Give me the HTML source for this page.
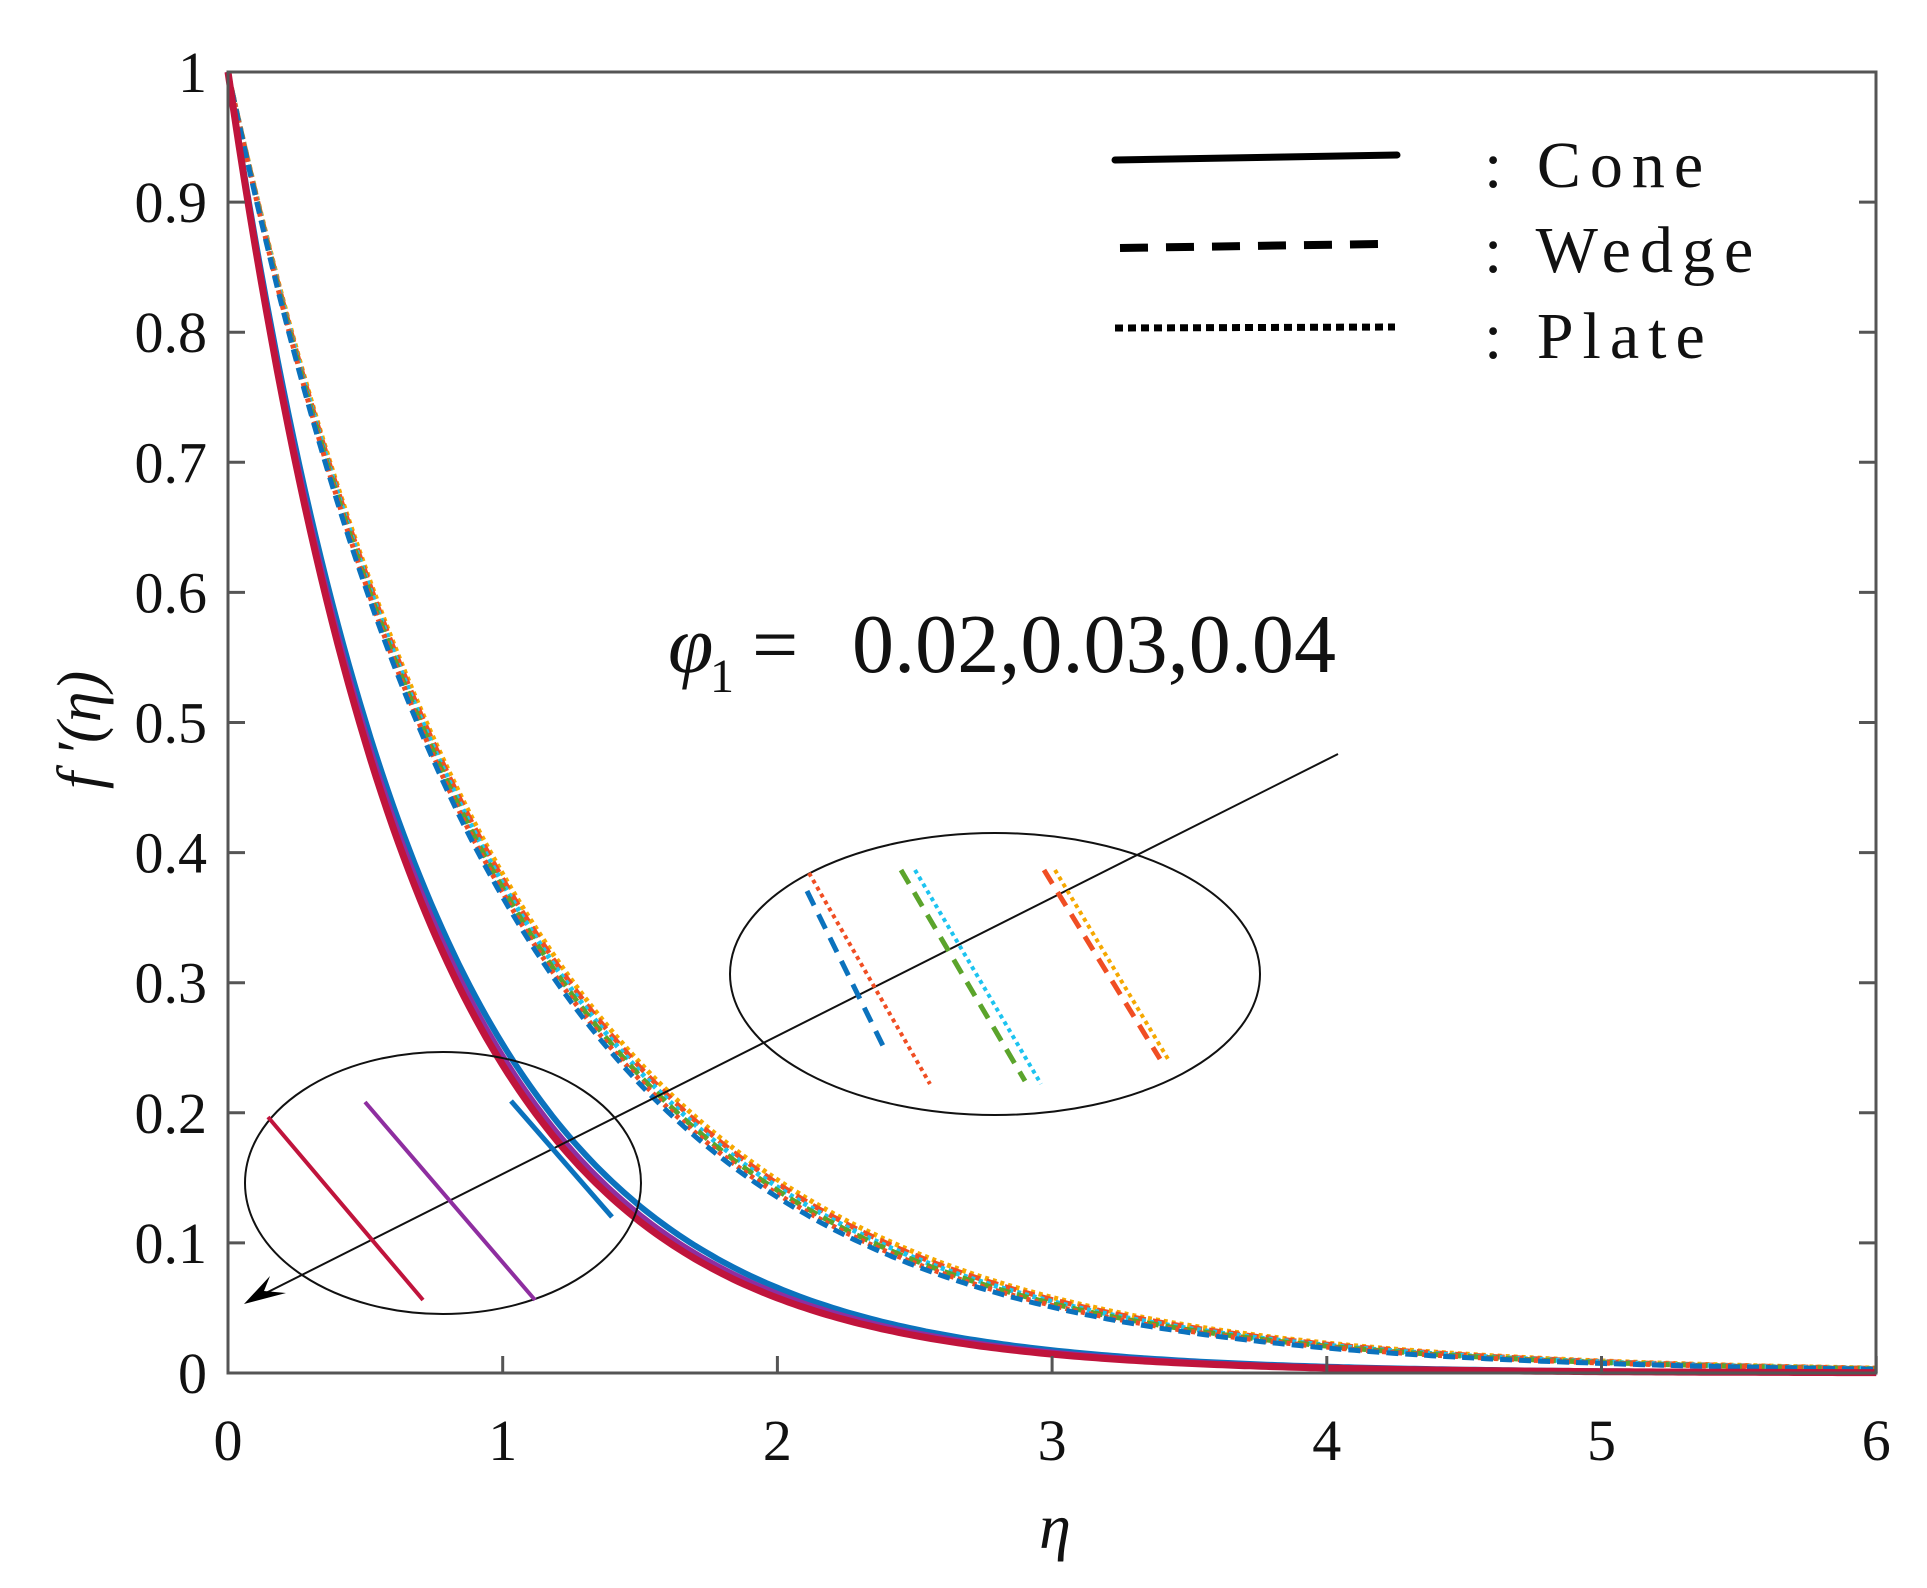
<!DOCTYPE html>
<html><head><meta charset="utf-8"><style>
html,body{margin:0;padding:0;background:#fff;}
svg{display:block;}
text{font-family:"Liberation Serif",serif;fill:#111;}
</style></head><body>
<svg id="s" width="1927" height="1588" viewBox="0 0 1927 1588" xmlns="http://www.w3.org/2000/svg">
<rect width="1927" height="1588" fill="#fff"/>
<g id="curves" fill="none"></g>
<rect x="228" y="72" width="1648" height="1301" fill="none" stroke="#555" stroke-width="3"/>
<g id="ticks" stroke="#555" stroke-width="3"></g>
<g id="labels" font-size="58"></g>
<line x1="1115" y1="160" x2="1397" y2="155" stroke="#000" stroke-width="7" stroke-linecap="round"/>
<line x1="1120" y1="248" x2="1379" y2="244" stroke="#000" stroke-width="8" stroke-dasharray="28,18"/>
<line x1="1115" y1="328" x2="1395" y2="327" stroke="#000" stroke-width="7" stroke-dasharray="8,5"/>
<text x="1484" y="187" font-size="66" letter-spacing="9">: Cone</text>
<text x="1484" y="272" font-size="66" letter-spacing="9">: Wedge</text>
<text x="1484" y="358" font-size="66" letter-spacing="9">: Plate</text>
<text x="668" y="672" font-size="82" font-style="italic">φ</text>
<text x="710" y="692" font-size="48">1</text>
<text x="752" y="672" font-size="82">=</text>
<text x="852" y="672" font-size="84" textLength="484" lengthAdjust="spacing">0.02,0.03,0.04</text>
<line x1="1338" y1="754" x2="258" y2="1297" stroke="#111" stroke-width="2"/>
<polygon points="244,1304 270,1276 264,1291 286,1293" fill="#000"/>
<ellipse cx="443" cy="1183" rx="198" ry="131" fill="none" stroke="#111" stroke-width="2"/>
<ellipse cx="995" cy="974" rx="265" ry="141" fill="none" stroke="#111" stroke-width="2"/>
<line x1="268" y1="1117" x2="423" y2="1300" stroke="#c0143c" stroke-width="4"/>
<line x1="365" y1="1102" x2="535" y2="1300" stroke="#8e2ea0" stroke-width="4"/>
<line x1="511" y1="1101" x2="612" y2="1217" stroke="#0b72bd" stroke-width="5"/>
<line x1="807" y1="891" x2="886" y2="1052" stroke="#0b72bd" stroke-width="5" stroke-dasharray="16,10"/>
<line x1="809" y1="873" x2="930" y2="1084" stroke="#f04e23" stroke-width="4" stroke-dasharray="4,4"/>
<line x1="901" y1="870" x2="1025" y2="1081" stroke="#5ba42b" stroke-width="5" stroke-dasharray="16,10"/>
<line x1="915" y1="870" x2="1041" y2="1084" stroke="#1cc3f0" stroke-width="4" stroke-dasharray="4,4"/>
<line x1="1044" y1="870" x2="1160" y2="1059" stroke="#f04e23" stroke-width="5" stroke-dasharray="16,10"/>
<line x1="1055" y1="870" x2="1168" y2="1059" stroke="#f5a800" stroke-width="4" stroke-dasharray="4,4"/>
<text x="1055" y="1548" font-size="64" font-style="italic" text-anchor="middle">η</text>
<text transform="translate(100,730) rotate(-90)" font-size="62" font-style="italic" text-anchor="middle">f ′(η)</text>
</svg>
<script>
var X=function(e){return 228+e*274.7;},Y=function(v){return 1373-v*1301;};
function path(k,t){var d='';for(var i=0;i<=300;i++){var e=i*6/300;var v=Math.exp(-k*e)*(1-t)+t*Math.exp(-k*0.75*e);d+=(i?'L':'M')+X(e).toFixed(1)+' '+Y(v).toFixed(1);}return d;}
var g=document.getElementById('curves');
var series=[
 [1.00,0.15,'#f5a800','4,4',5],
 [1.01,0.15,'#f04e23','12,7',5],
 [1.02,0.15,'#1cc3f0','4,4',5],
 [1.03,0.15,'#5ba42b','12,7',5],
 [1.04,0.15,'#f04e23','4,4',5],
 [1.05,0.15,'#0b72bd','12,7',5],
 [1.46,0.2,'#0b72bd','',6],
 [1.50,0.2,'#8e2ea0','',6],
 [1.53,0.2,'#c0143c','',7]];
series.forEach(function(s){var p=document.createElementNS('http://www.w3.org/2000/svg','path');p.setAttribute('d',path(s[0],s[1]));p.setAttribute('stroke',s[2]);p.setAttribute('stroke-width',s[4]);if(s[3])p.setAttribute('stroke-dasharray',s[3]);g.appendChild(p);});
var tk=document.getElementById('ticks'),lb=document.getElementById('labels'),ns='http://www.w3.org/2000/svg';
function ln(a,b,c,d){var l=document.createElementNS(ns,'line');l.setAttribute('x1',a);l.setAttribute('y1',b);l.setAttribute('x2',c);l.setAttribute('y2',d);tk.appendChild(l);}
function tx(x,y,s,anc){var t=document.createElementNS(ns,'text');t.setAttribute('x',x);t.setAttribute('y',y);t.setAttribute('text-anchor',anc);t.textContent=s;lb.appendChild(t);}
for(var i=0;i<=6;i++){var x=X(i);ln(x,1373,x,1356);tx(x,1460,String(i),'middle');}
for(var j=0;j<=10;j++){var y=Y(j/10);ln(228,y,245,y);ln(1876,y,1859,y);tx(207,y+20,j==10?'1':j==0?'0':'0.'+j,'end');}
</script>
</body></html>
